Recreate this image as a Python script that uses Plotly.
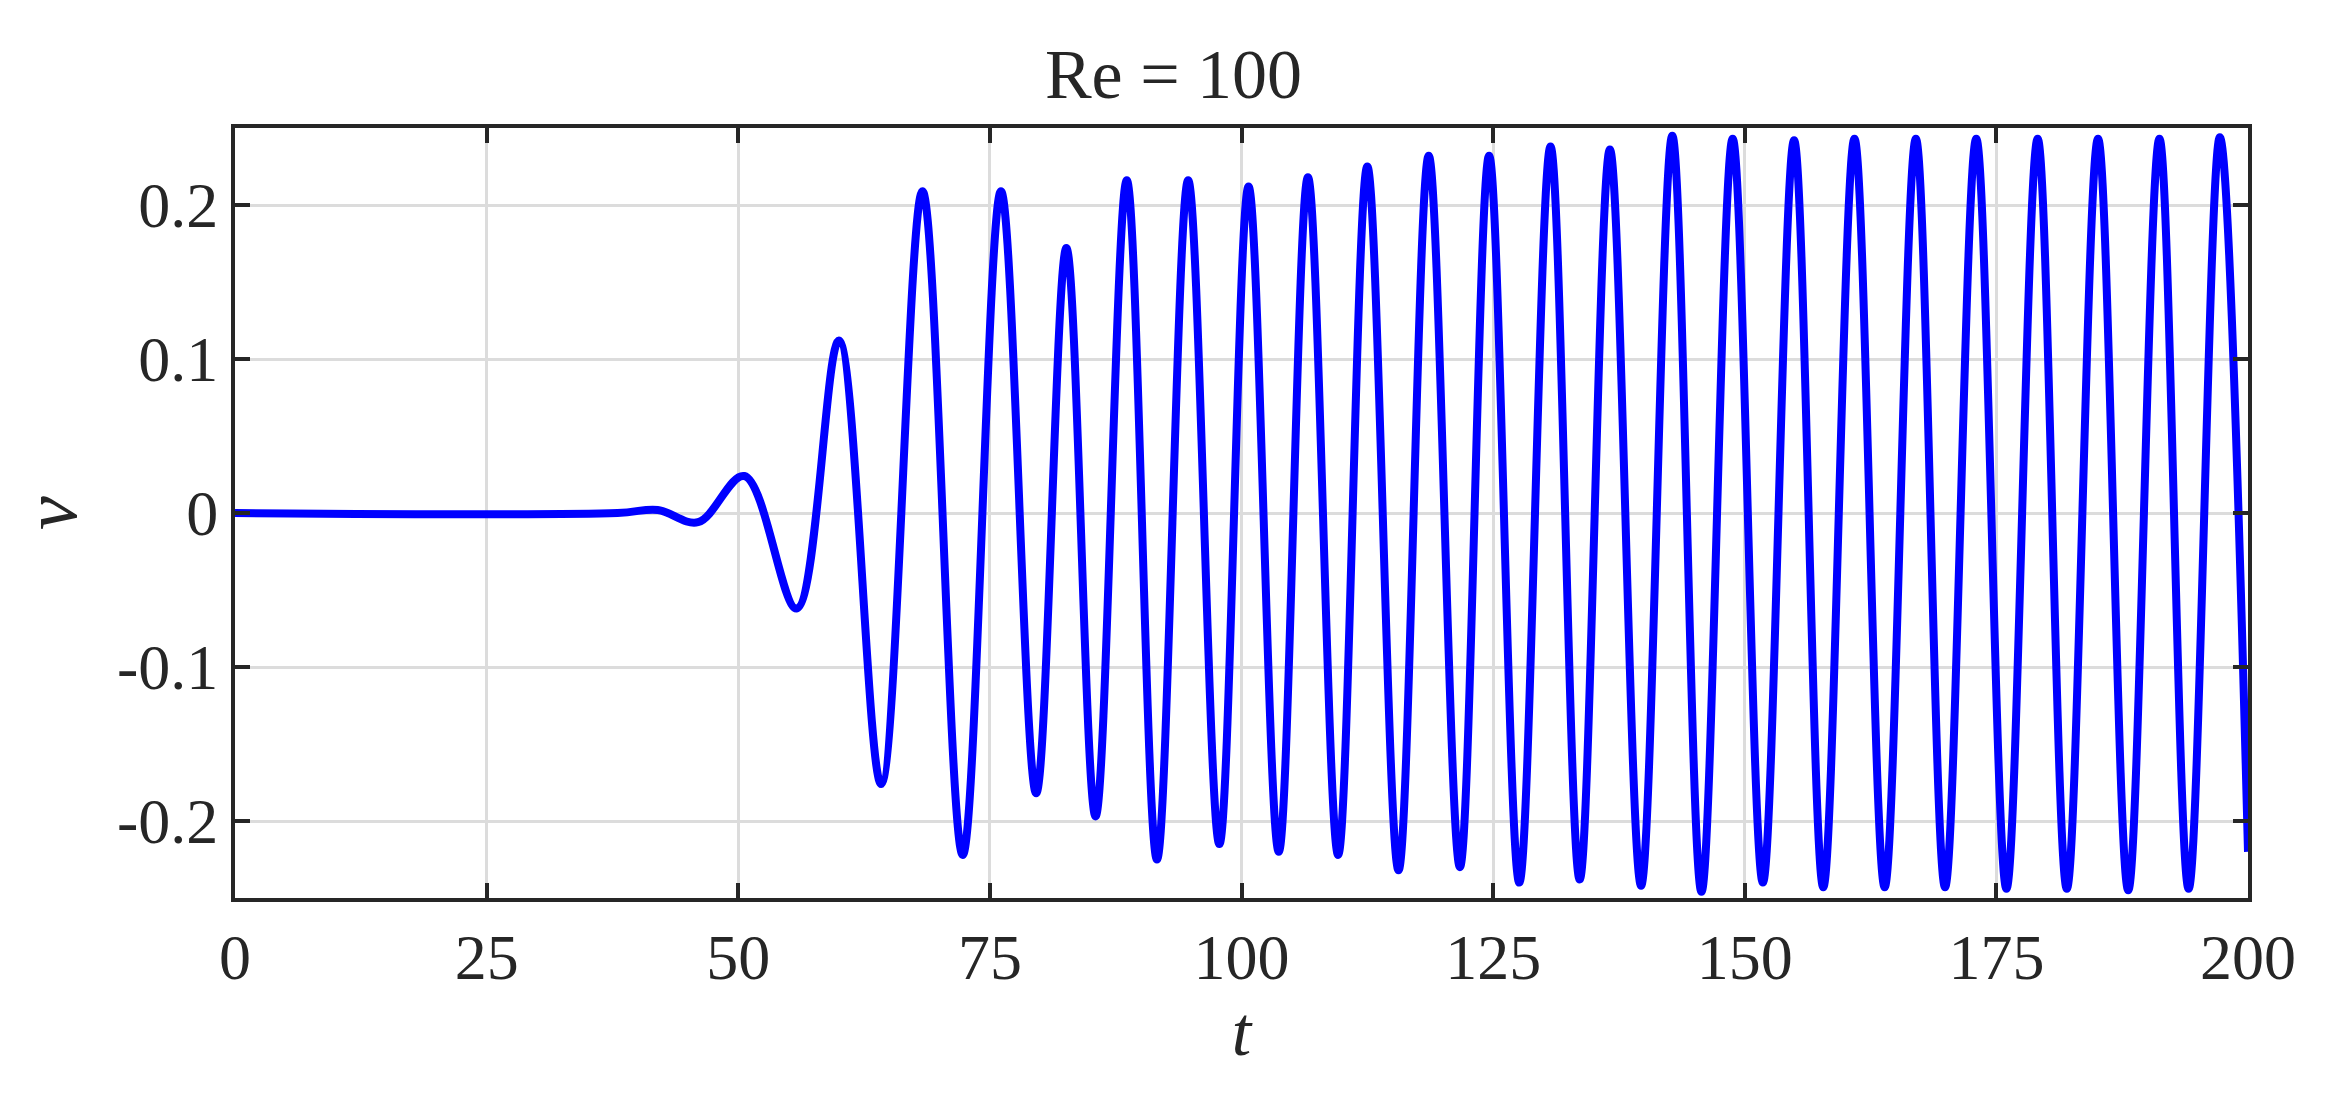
import plotly.graph_objects as go

t_ext = [0, 38, 42, 46, 50.6, 55.8, 60.0, 64.2, 68.3, 72.3, 76.1, 79.6, 82.6, 85.5, 88.6, 91.6, 94.7, 97.8,
         100.7, 103.7, 106.6, 109.6, 112.5, 115.6, 118.6, 121.7, 124.6, 127.6, 130.7, 133.6, 136.6, 139.7,
         142.8, 145.7, 148.8, 151.8, 154.9, 157.8, 160.9, 163.9, 167.0, 169.9, 173.0, 176.0, 179.1, 182.0,
         185.1, 188.1, 191.2, 194.1, 197.2, 200]
v_ext = [0, 0, 0.002, -0.006, 0.024, -0.062, 0.112, -0.176, 0.209, -0.222, 0.209, -0.182, 0.172, -0.197,
         0.216, -0.225, 0.216, -0.215, 0.212, -0.22, 0.218, -0.222, 0.225, -0.232, 0.232, -0.23, 0.232, -0.24,
         0.238, -0.238, 0.236, -0.242, 0.245, -0.246, 0.243, -0.24, 0.242, -0.243, 0.243, -0.243, 0.243,
         -0.243, 0.243, -0.244, 0.243, -0.244, 0.243, -0.245, 0.243, -0.244, 0.244, -0.22]
x_ticks = [0, 25, 50, 75, 100, 125, 150, 175, 200]
y_ticks = [-0.2, -0.1, 0, 0.1, 0.2]
y_labels = ["-0.2", "-0.1", "0", "0.1", "0.2"]

font = "Liberation Serif"
fig = go.Figure(go.Scatter(x=t_ext, y=v_ext, mode="lines",
                           line=dict(color="#0000ff", width=8, shape="spline", smoothing=1.0)))
ax = dict(showline=True, linecolor="#262626", linewidth=4, mirror="ticks", ticks="inside",
          ticklen=15, tickwidth=4, tickcolor="#262626", showgrid=True, gridcolor="#dcdcdc",
          gridwidth=3, zeroline=False, tickfont=dict(family=font, size=64, color="#262626"))
fig.update_xaxes(range=[0, 200], tickvals=x_ticks, **ax,
                 title=dict(text="<i>t</i>", font=dict(family=font, size=70, color="#262626"), standoff=5))
fig.update_yaxes(range=[-0.25, 0.25], tickvals=y_ticks, ticktext=y_labels, **ax,
                 title=dict(text="<i>ν</i>", font=dict(family=font, size=76, color="#262626"), standoff=25))
fig.update_layout(width=2331, height=1095, plot_bgcolor="white", paper_bgcolor="white",
                  showlegend=False, margin=dict(l=227, r=91, t=120, b=205),
                  title=dict(text="Re = 100", x=0.5, xanchor="center", y=0.94, yanchor="middle",
                             font=dict(family=font, size=70, color="#262626")))
fig.write_html("out.html")
